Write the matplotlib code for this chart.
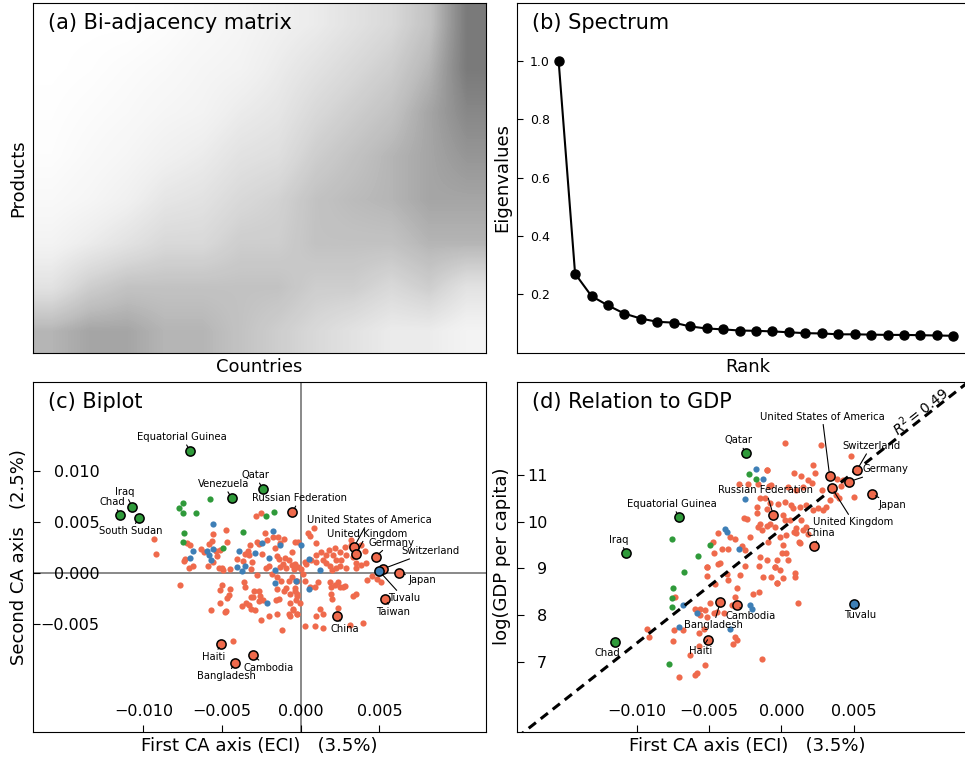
"""Four-panel summary of a country x product correspondence analysis:
(a) bi-adjacency matrix, (b) eigenvalue spectrum, (c) biplot of the first two
CA axes, (d) first CA axis (ECI) against log GDP per capita.
CA coordinates are kept in units of 1e-3 and scaled when drawn.
"""
import numpy as np
import matplotlib
matplotlib.use("Agg")
import matplotlib.pyplot as plt

W, H, DPI = 965, 759, 100
RED = "#ef6a4c"
BLUE = "#3e7fb6"
GREEN = "#2f9a3a"
COLOUR = {"r": RED, "b": BLUE, "g": GREEN}
SCALE = 1e-3

# (a) darkness of the bi-adjacency matrix, rows = products (top = rare),
# columns = countries (left = least diversified)
MATRIX_DENSITY = [
    [0.00, 0.00, 0.00, 0.02, 0.05, 0.08, 0.12, 0.15, 0.20, 0.25, 0.35, 0.60],
    [0.00, 0.01, 0.03, 0.05, 0.08, 0.10, 0.15, 0.20, 0.25, 0.30, 0.40, 0.60],
    [0.01, 0.03, 0.05, 0.08, 0.10, 0.15, 0.18, 0.25, 0.30, 0.35, 0.45, 0.55],
    [0.02, 0.05, 0.08, 0.12, 0.15, 0.20, 0.22, 0.30, 0.35, 0.40, 0.45, 0.50],
    [0.05, 0.08, 0.12, 0.18, 0.20, 0.25, 0.28, 0.35, 0.38, 0.40, 0.45, 0.45],
    [0.10, 0.15, 0.20, 0.25, 0.25, 0.30, 0.30, 0.35, 0.35, 0.35, 0.40, 0.40],
    [0.20, 0.30, 0.35, 0.35, 0.35, 0.35, 0.35, 0.30, 0.30, 0.25, 0.30, 0.20],
    [0.40, 0.45, 0.45, 0.40, 0.40, 0.35, 0.30, 0.25, 0.20, 0.15, 0.15, 0.10],
]

# (b) leading eigenvalues, by rank
EIGENVALUES = [1.0, 0.271, 0.194, 0.162, 0.134, 0.117, 0.106, 0.103, 0.090,
               0.083, 0.080, 0.076, 0.075, 0.073, 0.070, 0.067, 0.066, 0.063,
               0.063, 0.062, 0.061, 0.061, 0.060, 0.059, 0.058]

# (c) biplot, (first axis, second axis) x 1e-3, unlabelled countries
C_RED = [
    (-9.31, 3.38), (-9.20, 1.85), (-4.75, 4.24), (-5.61, 3.81), (-5.63, 3.18),
    (-5.84, 2.85), (-4.66, 3.08), (-7.22, 2.91), (-7.03, 2.78), (-7.36, 1.39),
    (-7.45, 1.19), (-7.09, 0.53), (-6.84, 0.66), (-6.35, 2.32), (-6.18, 2.05),
    (-5.89, 0.73), (-5.59, 1.13), (-5.30, 1.72), (-5.42, 2.18), (-5.13, 2.25),
    (-5.21, 0.46), (-4.96, 0.26), (-4.49, 0.43), (-5.00, 0.53), (-4.07, 1.39),
    (-3.65, 1.19), (-3.52, 1.85), (-3.10, 1.06), (-3.14, 0.43), (-2.76, -0.20),
    (-3.23, 2.75), (-3.33, 2.12), (-3.31, 1.75), (-2.81, 3.08), (-2.68, 2.81),
    (-2.28, 3.91), (-2.17, 3.24), (-2.49, 1.85), (-2.22, 0.53), (-2.00, 0.66),
    (-1.79, 3.51), (-1.43, 3.57), (-1.08, 3.38), (-1.33, 2.91), (-1.67, 2.42),
    (-1.54, 1.66), (-1.37, 1.39), (-0.99, 1.52), (-1.12, 0.93), (-0.91, 0.53),
    (-0.76, 1.32), (-0.59, 2.09), (-0.36, 3.05), (-0.40, 0.93), (-0.44, 0.43),
    (-1.33, 0.60), (-1.86, -0.13), (-1.50, -0.40), (-1.27, -0.73), (-0.78, -0.73),
    (-0.32, -0.73), (-7.70, -1.19), (-5.02, -1.13), (-5.13, -1.66), (-4.49, -1.56),
    (-3.61, -0.89), (-3.52, -1.32), (-2.95, -1.72), (-2.68, -1.72), (-2.60, -2.25),
    (-2.38, -2.65), (-3.17, -2.32), (-3.27, -3.11), (-3.76, -3.24), (-2.91, -3.57),
    (-2.64, -2.71), (-1.54, -1.56), (-1.41, -2.52), (-1.58, -2.65), (-0.97, -1.49),
    (-0.38, -1.46), (-0.23, -2.05), (-0.32, -2.65), (-1.06, -1.72), (-4.66, -2.48),
    (-5.13, -2.95), (-4.75, -3.71), (-5.70, -3.61), (-2.05, -4.20), (-1.54, -3.97),
    (-0.76, -3.97), (-0.49, -3.57), (-0.27, -4.04), (-1.22, -5.59), (-2.85, 5.56),
    (-2.55, 5.89), (-4.33, -6.69), (-4.81, -3.81), (-2.55, -4.57), (-3.48, -2.88),
    (-3.19, -3.54), (-3.02, -2.38), (-4.54, -2.12),
    (0.82, 4.40), (0.46, 3.91), (0.61, 3.64), (-0.17, 3.08), (0.99, 2.91),
    (1.79, 2.25), (2.15, 2.42), (2.79, 2.58), (3.17, 3.24), (3.21, 2.75),
    (2.26, 1.26), (2.57, 1.26), (2.85, 1.75), (3.31, 1.59), (3.52, 0.99),
    (3.80, 2.71), (4.05, 2.18), (0.25, 1.09), (0.36, 0.93), (0.68, 1.26),
    (0.99, 1.09), (1.41, 1.26), (1.62, 0.99), (1.84, 0.66), (2.00, 0.33),
    (2.26, 0.53), (2.47, 0.66), (2.89, 0.53), (3.52, 0.53), (3.84, 0.76),
    (4.16, 0.99), (-0.59, 0.76), (-0.59, -0.40), (-0.17, 0.60), (0.04, 0.43),
    (0.15, -0.07), (0.25, -0.73), (-0.27, -0.73), (-0.38, -1.72), (-0.23, -2.22),
    (-0.06, -2.88), (-0.49, -3.54), (-0.27, -4.04), (0.57, -1.39), (0.89, -1.39),
    (1.10, -0.89), (1.84, -0.89), (1.94, -1.39), (2.15, -1.13), (2.36, -0.89),
    (2.51, -1.39), (2.68, -1.32), (1.94, -2.05), (2.00, -2.55), (2.36, -3.38),
    (2.79, -1.22), (3.31, -2.22), (3.52, -2.05), (4.20, -0.66), (4.54, -0.33),
    (4.83, -0.56), (5.11, -0.89), (1.20, -3.54), (1.41, -4.04), (0.99, -4.20),
    (3.10, -5.03), (3.95, -4.87), (0.89, -5.20), (0.25, -5.20), (1.41, -5.36),
    (-0.70, -2.05), (-0.70, -2.88), (-0.70, -4.20), (1.31, 2.09), (1.58, 1.75),
    (2.05, 1.75), (2.47, 2.09), (0.95, 1.75),
]
C_BLUE = [
    (-5.61, 4.77), (-6.82, 2.18), (-7.01, 1.52), (-5.97, 2.12), (-5.82, 1.79),
    (-5.55, 2.38), (-5.72, 1.26), (-3.90, 2.18), (-4.07, 0.60), (-3.52, 0.70),
    (-3.76, 0.20), (-2.91, 1.92), (-2.05, 1.46), (-2.47, 2.91), (-1.75, 4.14),
    (-1.33, 2.71), (-1.67, 0.26), (-1.62, -0.93), (-2.17, -2.88), (0.04, 2.75),
    (0.53, 1.42), (1.24, 0.33), (-0.32, -0.73), (0.53, -1.56),
]
C_GREEN = [
    (-7.51, 6.88), (-7.72, 6.36), (-7.49, 5.89), (-6.65, 5.89), (-5.76, 7.28),
    (-7.43, 3.94), (-7.47, 3.08), (-3.69, 4.04), (-4.92, 2.48), (-2.19, 5.56),
    (-1.69, 5.96),
]
# labelled countries: name, group, point, label centre
C_LABELLED = [
    ("Equatorial Guinea", "g", (-7.03, 11.95), (-7.55, 13.3)),
    ("Qatar", "g", (-2.41, 8.24), (-2.91, 9.57)),
    ("Venezuela", "g", (-4.39, 7.32), (-4.92, 8.71)),
    ("Iraq", "g", (-10.70, 6.45), (-11.2, 7.95)),
    ("Chad", "g", (-11.46, 5.69), (-11.98, 6.95)),
    ("South Sudan", "g", (-10.30, 5.36), (-10.82, 4.10)),
    ("Russian Federation", "r", (-0.53, 5.96), (-0.06, 7.32)),
    ("United States of America", "r", (3.38, 2.55), (4.33, 5.20)),
    ("United Kingdom", "r", (3.50, 1.85), (4.22, 3.87)),
    ("Germany", "r", (4.75, 1.59), (5.74, 2.98)),
    ("Switzerland", "r", (5.25, 0.43), (8.23, 2.15)),
    ("Japan", "r", (6.27, 0.03), (7.70, -0.66)),
    ("Tuvalu", "b", (5.00, 0.17), (6.54, -2.45)),
    ("Taiwan", "r", (5.36, -2.52), (5.84, -3.81)),
    ("China", "r", (2.32, -4.24), (2.79, -5.46)),
    ("Haiti", "r", (-5.06, -6.92), (-5.55, -8.21)),
    ("Cambodia", "r", (-3.04, -8.04), (-2.07, -9.27)),
    ("Bangladesh", "r", (-4.18, -8.77), (-4.71, -10.1)),
]

# (d) (first axis x 1e-3, log GDP per capita)
D_RED = [
    (-1.03, 11.11), (-2.93, 10.80), (-2.29, 10.80), (-1.60, 10.80), (-0.87, 10.77),
    (-1.49, 10.50), (-1.72, 10.32), (-1.03, 10.27), (-1.72, 10.19), (-2.58, 10.09),
    (-2.40, 10.05), (-1.49, 9.96), (-1.60, 9.88), (-1.37, 9.82), (-1.03, 9.91),
    (-4.35, 9.75), (-3.54, 9.68), (-3.20, 9.62), (-2.17, 9.68), (-4.73, 9.57),
    (-4.12, 9.41), (-3.66, 9.41), (-2.74, 9.48), (-2.52, 9.39), (-4.64, 9.32),
    (-5.15, 9.04), (-4.23, 9.11), (-2.52, 9.05), (-1.49, 9.25), (-1.03, 9.19),
    (0.23, 11.68), (2.70, 11.64), (-0.98, 11.11), (0.87, 11.04), (1.37, 10.98),
    (1.83, 10.89), (2.13, 10.82), (2.17, 11.21), (2.33, 11.04), (-0.69, 10.79),
    (0.46, 10.75), (1.03, 10.68), (1.49, 10.75), (2.81, 10.68), (3.82, 10.91),
    (4.12, 10.76), (5.03, 10.54), (3.32, 10.46), (3.77, 10.57), (4.23, 10.89),
    (-1.14, 10.50), (-0.80, 10.41), (-0.23, 10.39), (0.23, 10.43), (0.69, 10.36),
    (0.80, 10.29), (1.26, 10.32), (1.72, 10.36), (2.17, 10.25), (2.52, 10.29),
    (2.86, 10.25), (0.11, 10.14), (0.57, 10.04), (1.37, 10.04), (1.49, 9.82),
    (-0.80, 9.96), (-0.46, 9.89), (-0.11, 9.68), (0.34, 9.71), (1.03, 9.86),
    (-0.91, 9.57), (1.26, 9.54),
    (-5.15, 9.02), (-4.35, 9.09), (-3.77, 8.89), (-5.15, 8.84), (-2.86, 8.86),
    (-4.57, 8.66), (-3.66, 8.75), (-3.09, 8.57), (-1.26, 8.82), (-0.46, 9.02),
    (-0.34, 8.68), (-1.94, 8.46), (-1.53, 8.50), (-7.32, 8.38), (-5.95, 8.14),
    (-5.60, 8.12), (-5.26, 8.11), (-5.60, 8.00), (-5.15, 7.96), (-4.69, 8.04),
    (-4.46, 8.07), (-4.00, 8.04), (-3.43, 8.21), (-3.20, 8.39), (-4.92, 8.25),
    (-7.43, 7.68), (-6.79, 7.69), (-7.48, 7.45), (-9.26, 7.71), (-9.15, 7.52),
    (-5.72, 7.61), (-5.37, 7.71), (-5.72, 7.34), (-6.33, 7.14), (-5.26, 6.93),
    (-5.83, 6.76), (-5.95, 6.71), (-7.09, 6.68), (-3.20, 7.54), (-3.09, 7.46),
    (-3.32, 7.39), (-1.37, 7.06),
    (4.80, 11.41), (0.85, 9.79), (1.03, 9.75), (1.21, 9.57), (0.11, 9.50),
    (0.07, 9.32), (0.34, 9.32), (0.46, 9.18), (-0.34, 9.18), (-0.46, 9.04),
    (-0.11, 8.96), (0.11, 8.79), (-0.30, 8.68), (0.91, 8.91), (0.91, 8.81),
    (1.17, 8.25), (-0.69, 8.82), (-1.53, 9.05), (1.72, 9.89), (1.83, 9.74),
    (0.23, 10.04), (3.09, 10.32), (4.00, 10.50),
]
D_BLUE = [
    (-1.76, 11.14), (-1.30, 10.91), (-2.52, 10.48), (-3.89, 9.84), (-3.77, 9.78),
    (-2.93, 9.41), (-6.82, 8.21), (-5.83, 8.04), (-7.04, 7.75), (-3.54, 7.71),
    (-2.17, 8.21), (-2.06, 8.14),
]
D_GREEN = [
    (-2.22, 11.02), (-1.76, 10.91), (-7.55, 9.64), (-4.96, 9.51), (-5.79, 9.27),
    (-6.70, 8.93), (-7.48, 8.57), (-7.55, 8.37), (-7.55, 8.18), (-7.78, 6.96),
]
D_LABELLED = [
    ("Qatar", "g", (-2.45, 11.47), (-2.97, 11.74)),
    ("Equatorial Guinea", "g", (-7.07, 10.11), (-7.59, 10.38)),
    ("Iraq", "g", (-10.70, 9.34), (-11.25, 9.61)),
    ("Chad", "g", (-11.48, 7.43), (-12.0, 7.18)),
    ("United States of America", "r", (3.32, 10.99), (2.81, 12.25)),
    ("Switzerland", "r", (5.21, 11.11), (6.18, 11.62)),
    ("Germany", "r", (4.69, 10.86), (7.20, 11.12)),
    ("United Kingdom", "r", (3.48, 10.72), (4.96, 9.99)),
    ("Japan", "r", (6.24, 10.60), (7.66, 10.35)),
    ("Russian Federation", "r", (-0.57, 10.15), (-1.07, 10.67)),
    ("China", "r", (2.24, 9.49), (2.74, 9.75)),
    ("Tuvalu", "b", (4.99, 8.24), (5.44, 7.99)),
    ("Bangladesh", "r", (-4.23, 8.27), (-4.69, 7.78)),
    ("Cambodia", "r", (-3.09, 8.21), (-2.10, 7.98)),
    ("Haiti", "r", (-5.10, 7.47), (-5.60, 7.23)),
]
# least-squares line of log GDP on the first axis
FIT_SLOPE = 244.6      # per unit of the first axis
FIT_INTERCEPT = 9.84
FIT_R2 = 0.49


def px_axes(fig, left, top, right, bottom):
    """add axes from pixel edges (origin top-left)"""
    return fig.add_axes([left / W, 1 - bottom / H, (right - left) / W, (bottom - top) / H])


def panel_title(ax, text):
    ax.text(0.033, 0.943, text, transform=ax.transAxes, fontsize=15, va="center")


def scatter_groups(ax, red, blue, green, yscale):
    for pts, col in ((red, RED), (blue, BLUE), (green, GREEN)):
        a = np.array(pts) * [SCALE, yscale]
        ax.scatter(a[:, 0], a[:, 1], s=20, color=col, lw=0, zorder=2)


def labelled(ax, rows, yscale):
    for name, grp, (x, y), (tx, ty) in rows:
        ax.scatter([x * SCALE], [y * yscale], s=44, color=COLOUR[grp],
                   edgecolor="black", lw=1.1, zorder=4)
        ax.annotate(name, xy=(x * SCALE, y * yscale), xytext=(tx * SCALE, ty * yscale),
                    fontsize=7.2, ha="center", va="center", zorder=5,
                    arrowprops=dict(arrowstyle="-", color="black", lw=0.8,
                                    shrinkA=0, shrinkB=3))


def main():
    fig = plt.figure(figsize=(W / DPI, H / DPI), dpi=DPI)

    # (a) bi-adjacency matrix
    ax = px_axes(fig, 33.3, 2.7, 485.5, 352.7)
    ax.imshow(np.array(MATRIX_DENSITY), cmap="Greys", vmin=0, vmax=1,
              aspect="auto", interpolation="bilinear")
    ax.set_xticks([])
    ax.set_yticks([])
    ax.set_xlabel("Countries", fontsize=13)
    ax.set_ylabel("Products", fontsize=13)
    panel_title(ax, "(a) Bi-adjacency matrix")

    # (b) spectrum
    ax = px_axes(fig, 516.7, 2.7, 978, 352.7)
    ranks = np.arange(1, len(EIGENVALUES) + 1)
    ax.plot(ranks, EIGENVALUES, "o-", color="black", ms=6.5, lw=1.5)
    ax.set_xlim(-1.55, 26.5)
    ax.set_ylim(0, 1.2)
    ax.set_xticks([])
    ax.set_yticks([0.2, 0.4, 0.6, 0.8, 1.0])
    ax.tick_params(axis="y", direction="in", length=4, labelsize=9, pad=-24)
    ax.set_xlabel("Rank", fontsize=13)
    ax.set_ylabel("Eigenvalues", fontsize=13)
    panel_title(ax, "(b) Spectrum")

    # (c) biplot
    ax = px_axes(fig, 33.3, 381.7, 486, 731.7)
    ax.axhline(0, color="grey", lw=1.3, zorder=1)
    ax.axvline(0, color="grey", lw=1.3, zorder=1)
    scatter_groups(ax, C_RED, C_BLUE, C_GREEN, SCALE)
    labelled(ax, C_LABELLED, SCALE)
    ax.set_xlim(-17.0 * SCALE, 11.77 * SCALE)
    ax.set_ylim(-15.52 * SCALE, 18.73 * SCALE)
    ax.set_xticks([-0.010, -0.005, 0.0, 0.005])
    ax.set_yticks([-0.005, 0.0, 0.005, 0.010])
    ax.tick_params(direction="in", length=5, labelsize=11.5)
    ax.tick_params(axis="y", pad=-47.5)
    ax.tick_params(axis="x", pad=-19.7)
    ax.set_xlabel("First CA axis (ECI)   (3.5%)", fontsize=13)
    ax.set_ylabel("Second CA axis   (2.5%)", fontsize=13)
    panel_title(ax, "(c) Biplot")

    # (d) relation to GDP
    ax = px_axes(fig, 516.7, 381.7, 978, 731.7)
    xlim = (-18.27 * SCALE, 13.56 * SCALE)
    ax.set_xlim(*xlim)
    ax.set_ylim(5.5, 13.0)
    fx = np.array(xlim)
    ax.plot(fx, FIT_INTERCEPT + FIT_SLOPE * fx, color="black", lw=2.2,
            dashes=(3, 2), zorder=3)
    scatter_groups(ax, D_RED, D_BLUE, D_GREEN, 1.0)
    labelled(ax, D_LABELLED, 1.0)
    p0 = ax.transData.transform((fx[0], FIT_INTERCEPT + FIT_SLOPE * fx[0]))
    p1 = ax.transData.transform((fx[1], FIT_INTERCEPT + FIT_SLOPE * fx[1]))
    angle = np.degrees(np.arctan2(p1[1] - p0[1], p1[0] - p0[0]))
    ax.text(9.56 * SCALE, 12.36, f"$R^2 = {FIT_R2:.2f}$", fontsize=10,
            rotation=angle, rotation_mode="anchor", ha="center", va="center")
    ax.set_xticks([-0.010, -0.005, 0.0, 0.005])
    ax.set_yticks([7, 8, 9, 10, 11])
    ax.tick_params(direction="in", length=5, labelsize=11.5)
    ax.tick_params(axis="y", pad=-22)
    ax.tick_params(axis="x", pad=-19.7)
    ax.set_xlabel("First CA axis (ECI)   (3.5%)", fontsize=13)
    ax.set_ylabel("log(GDP per capita)", fontsize=13)
    panel_title(ax, "(d) Relation to GDP")

    fig.savefig("out.png", dpi=DPI)
    plt.close(fig)


if __name__ == "__main__":
    main()
